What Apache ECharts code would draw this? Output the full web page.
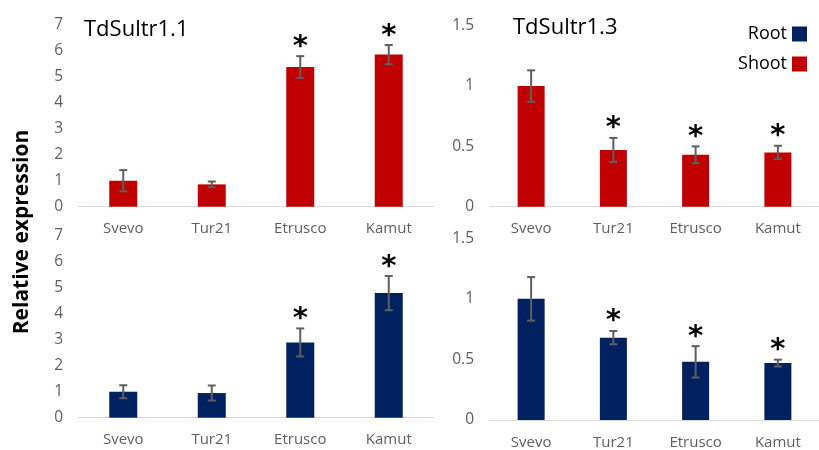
<!DOCTYPE html>
<html>
<head>
<meta charset="utf-8">
<script src="https://cdn.jsdelivr.net/npm/echarts@6/dist/echarts.min.js"></script>
<style>html,body{margin:0;padding:0;background:#fff}#c{width:819px;height:450px}</style>
</head>
<body>
<div id="c"></div>
<script>
const categories = ['Svevo', 'Tur21', 'Etrusco', 'Kamut'];
// TdSultr1.1
const shoot11 = [1.0, 0.86, 5.38, 5.86];
const shoot11Err = [0.41, 0.11, 0.42, 0.37];
const root11 = [1.0, 0.95, 2.9, 4.8];
const root11Err = [0.25, 0.29, 0.54, 0.66];
const sig11 = [0, 0, 1, 1];
// TdSultr1.3
const shoot13 = [1.0, 0.47, 0.43, 0.45];
const shoot13Err = [0.13, 0.10, 0.07, 0.055];
const root13 = [1.0, 0.68, 0.48, 0.47];
const root13Err = [0.18, 0.055, 0.13, 0.028];
const sig13 = [0, 1, 1, 1];
// axis ticks
const yMax11 = 7, yStep11 = 1;
const yMax13 = 1.5, yStep13 = 0.5;

const FONT = "'Open Sans', 'Noto Sans', sans-serif";
const SHOOT = '#C00000', ROOT = '#002060', GREY = '#5f5f5f';

const grids = [
  {left: 79, top: 25, width: 354, height: 181.7},
  {left: 490, top: 25.7, width: 342, height: 181},
  {left: 79, top: 236, width: 354, height: 181.7},
  {left: 490, top: 238.3, width: 342, height: 183}
];
const panels = [
  {vals: shoot11, err: shoot11Err, sig: sig11, name: 'Shoot', color: SHOOT, max: yMax11, step: yStep11, bw: 28},
  {vals: shoot13, err: shoot13Err, sig: sig13, name: 'Shoot', color: SHOOT, max: yMax13, step: yStep13, bw: 27},
  {vals: root11, err: root11Err, sig: sig11, name: 'Root', color: ROOT, max: yMax11, step: yStep11, bw: 28},
  {vals: root13, err: root13Err, sig: sig13, name: 'Root', color: ROOT, max: yMax13, step: yStep13, bw: 27}
];

const xAxes = [], yAxes = [], series = [];
panels.forEach((p, i) => {
  xAxes.push({
    type: 'category', gridIndex: i, data: categories,
    axisLine: {lineStyle: {color: '#D9D9D9', width: 1}},
    axisTick: {show: false},
    axisLabel: {color: GREY, fontSize: 15, fontFamily: FONT, margin: 15}
  });
  yAxes.push({
    type: 'value', gridIndex: i, min: 0, max: p.max, interval: p.step,
    axisLine: {show: false}, axisTick: {show: false}, splitLine: {show: false},
    axisLabel: {color: GREY, fontSize: 15.5, fontFamily: FONT, margin: 16}
  });
  series.push({
    type: 'bar', name: p.name, xAxisIndex: i, yAxisIndex: i,
    data: p.vals, barWidth: p.bw, itemStyle: {color: p.color},
    emphasis: {disabled: true}, silent: true
  });
  series.push({
    type: 'custom', xAxisIndex: i, yAxisIndex: i, silent: true, z: 5,
    data: p.vals.map((v, k) => [k, v, p.err[k], p.sig[k]]),
    renderItem: function (params, api) {
      const x = api.value(0), v = api.value(1), e = api.value(2), s = api.value(3);
      const top = api.coord([x, v + e]);
      const bot = api.coord([x, v - e]);
      const hw = 4;
      const st = {stroke: GREY, lineWidth: 2};
      const children = [
        {type: 'line', shape: {x1: top[0], y1: top[1], x2: bot[0], y2: bot[1]}, style: st},
        {type: 'line', shape: {x1: top[0] - hw, y1: top[1], x2: top[0] + hw, y2: top[1]}, style: st},
        {type: 'line', shape: {x1: bot[0] - hw, y1: bot[1], x2: bot[0] + hw, y2: bot[1]}, style: st}
      ];
      if (s) {
        children.push({
          type: 'text', x: top[0], y: top[1] - 9,
          style: {text: '*', fill: '#000', font: "bold 29px 'DejaVu Sans'", align: 'center', verticalAlign: 'middle'}
        });
      }
      return {type: 'group', children: children};
    }
  });
});

const chart = echarts.init(document.getElementById('c'), null, {renderer: 'canvas'});
chart.setOption({
  animation: false,
  backgroundColor: '#fff',
  title: [
    {text: 'TdSultr1.1', left: 79, top: 14, textStyle: {fontFamily: FONT, fontSize: 22, fontWeight: 'normal', color: '#000'}},
    {text: 'TdSultr1.3', left: 508, top: 12, textStyle: {fontFamily: FONT, fontSize: 22, fontWeight: 'normal', color: '#000'}}
  ],
  legend: {
    data: ['Root', 'Shoot'], orient: 'vertical', right: 7, top: 20, align: 'right',
    itemWidth: 15, itemHeight: 15, itemGap: 12, icon: 'rect',
    textStyle: {fontFamily: FONT, fontSize: 18, color: '#000'}
  },
  graphic: [{
    type: 'text', x: 22, y: 232, rotation: Math.PI / 2,
    style: {text: 'Relative expression', font: "bold 21px 'Open Sans'", fill: '#000', align: 'center', verticalAlign: 'middle'}
  }],
  grid: grids,
  xAxis: xAxes,
  yAxis: yAxes,
  series: series
});
</script>
</body>
</html>
